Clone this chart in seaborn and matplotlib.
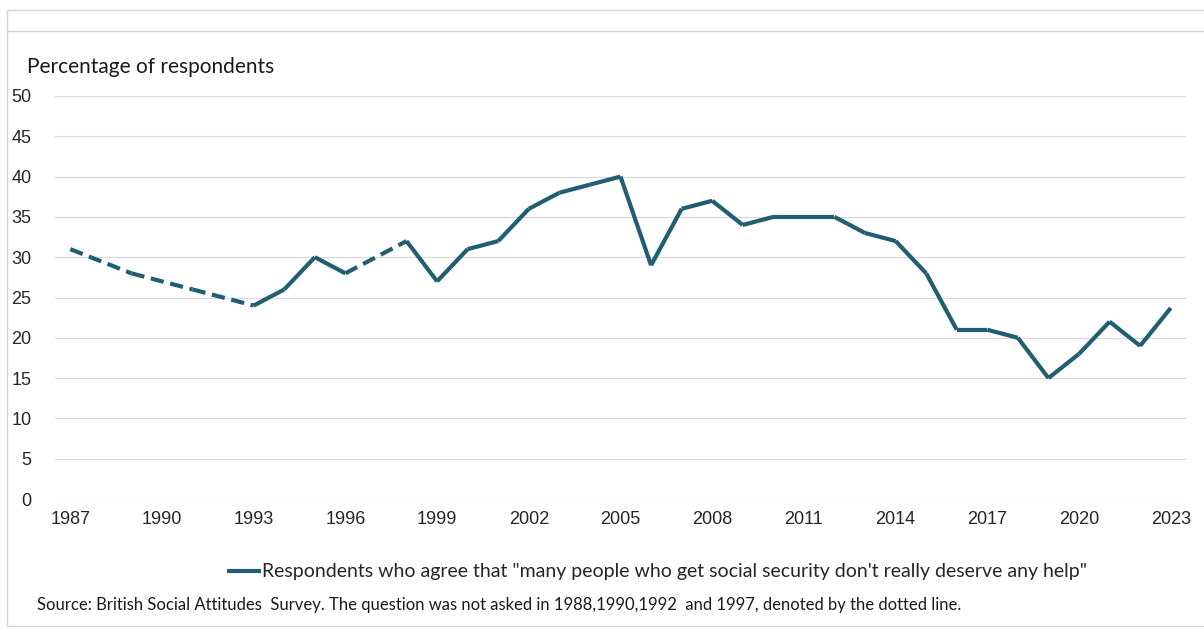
import matplotlib
matplotlib.use("Agg")
import matplotlib.pyplot as plt
from matplotlib.lines import Line2D
import pandas as pd
import seaborn as sns

# British Social Attitudes: share agreeing that many people who get
# social security don't really deserve any help
years = [1987, 1989, 1991, 1993, 1994, 1995, 1996, 1998, 1999, 2000, 2001,
         2002, 2003, 2004, 2005, 2006, 2007, 2008, 2009, 2010, 2011, 2012,
         2013, 2014, 2015, 2016, 2017, 2018, 2019, 2020, 2021, 2022, 2023]
values = [31, 28, 26, 24, 26, 30, 28, 32, 27, 31, 32,
          36, 38, 39, 40, 29, 36, 37, 34, 35, 35, 35,
          33, 32, 28, 21, 21, 20, 15, 18, 22, 19, 23.7]
x_ticks = list(range(1987, 2024, 3))
y_ticks = list(range(0, 51, 5))

series_label = ('Respondents who agree that "many people who get social '
                'security don\'t really deserve any help"')
source_note = ("Source: British Social Attitudes  Survey. The question was not asked "
               "in 1988,1990,1992  and 1997, denoted by the dotted line.")

LINE = "#215E72"
GRID = "#D9D9D9"

# Split the series into runs: consecutive survey years are drawn solid,
# spans across years with no survey are drawn dashed.
rows = []
seg = 0
for i in range(len(years) - 1):
    kind = "gap" if years[i + 1] - years[i] > 1 else "observed"
    for j in (i, i + 1):
        rows.append({"year": years[j], "value": values[j], "seg": seg, "kind": kind})
    seg += 1
df = pd.DataFrame(rows)

sns.set_theme(style="white")
plt.rcParams["font.family"] = ["Liberation Sans", "DejaVu Sans"]

fig = plt.figure(figsize=(12.04, 6.28), dpi=100)
ax = fig.add_axes([55 / 1204, 1 - 499 / 628, (1186 - 55) / 1204, (499 - 96) / 628])

sns.lineplot(data=df, x="year", y="value", units="seg", style="kind",
             estimator=None, color=LINE, linewidth=3,
             dashes={"observed": "", "gap": (3.2, 1.6)},
             legend=False, ax=ax)
for ln in ax.lines:
    ln.set_solid_capstyle("butt")
    ln.set_dash_capstyle("butt")
    ln.set_solid_joinstyle("miter")

ax.set_xlim(1986.5, 2023.5)
ax.set_ylim(0, 50)
ax.set_xticks(x_ticks)
ax.set_yticks(y_ticks)
ax.set_xticklabels([str(t) for t in x_ticks], fontsize=13, color="#262626")
ax.set_yticklabels([str(t) for t in y_ticks], fontsize=13, color="#262626")
ax.tick_params(axis="both", length=0)
ax.tick_params(axis="x", pad=9)
ax.tick_params(axis="y", pad=17)
ax.set_xlabel("")
ax.set_ylabel("")
ax.grid(axis="y", color=GRID, linewidth=0.9)
ax.grid(axis="x", visible=False)
for side in ax.spines.values():
    side.set_visible(False)
ax.set_axisbelow(True)

fig.text(27 / 1204, 1 - 67 / 628, "Percentage of respondents",
         fontsize=15, family=["Lato", "DejaVu Sans"], color="#1a1a1a",
         va="center", ha="left")

handle = Line2D([], [], color=LINE, linewidth=3, solid_capstyle="butt")
fig.legend([handle], [series_label], loc="center",
           bbox_to_anchor=(657 / 1204, 1 - 572 / 628), frameon=False,
           handlelength=1.75, handletextpad=0.05,
           prop={"family": ["Lato", "DejaVu Sans"], "size": 14})

fig.text(37 / 1204, 1 - 605 / 628, source_note,
         fontsize=12, family=["Lato", "DejaVu Sans"],
         color="#1a1a1a", va="center", ha="left")

# Thin panel frame
frame_kw = dict(color="#D4D4D4", linewidth=1, transform=fig.transFigure)
fig.add_artist(Line2D([7 / 1204, 1], [1 - 10 / 628, 1 - 10 / 628], **frame_kw))
fig.add_artist(Line2D([7 / 1204, 1], [1 - 31 / 628, 1 - 31 / 628], **frame_kw))
fig.add_artist(Line2D([7 / 1204, 7 / 1204], [1 - 10 / 628, 1 - 626 / 628], **frame_kw))
fig.add_artist(Line2D([7 / 1204, 1], [1 - 626 / 628, 1 - 626 / 628], **frame_kw))

fig.savefig("out.png", dpi=100, facecolor="white")
